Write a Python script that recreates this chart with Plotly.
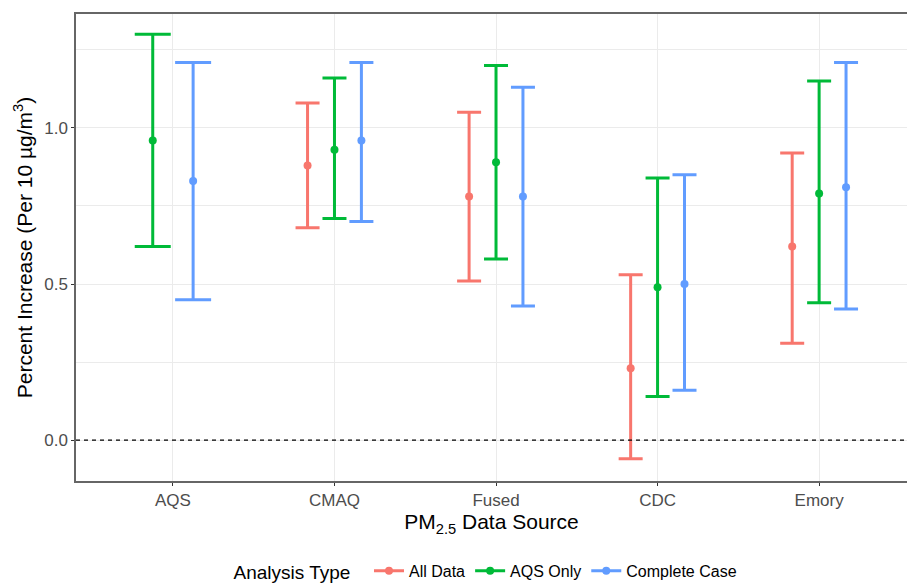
import plotly.graph_objects as go

# PM2.5 data sources on the x axis
sources = ["AQS", "CMAQ", "Fused", "CDC", "Emory"]
analysis_types = ["All Data", "AQS Only", "Complete Case"]
colors = ["#F8766D", "#00BA38", "#619CFF"]

# percent increase per 10 ug/m3 with 95% CI (None = not estimated)
all_data_est = [None, 0.88, 0.78, 0.23, 0.62]
all_data_low = [None, 0.68, 0.51, -0.06, 0.31]
all_data_high = [None, 1.08, 1.05, 0.53, 0.92]

aqs_only_est = [0.96, 0.93, 0.89, 0.49, 0.79]
aqs_only_low = [0.62, 0.71, 0.58, 0.14, 0.44]
aqs_only_high = [1.30, 1.16, 1.20, 0.84, 1.15]

complete_est = [0.83, 0.96, 0.78, 0.50, 0.81]
complete_low = [0.45, 0.70, 0.43, 0.16, 0.42]
complete_high = [1.21, 1.21, 1.13, 0.85, 1.21]

est = [all_data_est, aqs_only_est, complete_est]
low = [all_data_low, aqs_only_low, complete_low]
high = [all_data_high, aqs_only_high, complete_high]

DODGE = 0.5
FONT = "Arial, Liberation Sans, sans-serif"

fig = go.Figure()

# one trace per point so dodge offset and cap width follow ggplot's position_dodge
for i, src in enumerate(sources):
    present = [k for k in range(3) if est[k][i] is not None]
    n = len(present)
    for j, k in enumerate(present):
        xpos = i + DODGE * ((j + 0.5) / n - 0.5)
        fig.add_trace(go.Scatter(
            x=[xpos],
            y=[est[k][i]],
            mode="markers",
            marker=dict(color=colors[k], size=8),
            error_y=dict(
                type="data",
                symmetric=False,
                array=[high[k][i] - est[k][i]],
                arrayminus=[est[k][i] - low[k][i]],
                color=colors[k],
                thickness=3,
                width=36 / n,
            ),
            name=analysis_types[k],
            legendgroup=analysis_types[k],
            showlegend=False,
        ))

# legend keys
for k, name in enumerate(analysis_types):
    fig.add_trace(go.Scatter(
        x=[None], y=[None],
        mode="lines+markers",
        line=dict(color=colors[k], width=3),
        marker=dict(color=colors[k], size=8),
        name=name,
        legendgroup=name,
    ))

fig.add_hline(y=0, line=dict(color="black", width=1.2, dash="4px,4px"))

fig.update_layout(
    width=907,
    height=583,
    margin=dict(l=76, r=0, t=14, b=102, autoexpand=False),
    plot_bgcolor="white",
    paper_bgcolor="white",
    font=dict(family=FONT, color="black"),
    legend=dict(
        orientation="h",
        xref="container", x=0.537, xanchor="center",
        yref="container", y=0.02, yanchor="middle",
        title=dict(text="Analysis Type  ", font=dict(size=19)),
        font=dict(size=16),
        itemwidth=30,
    ),
)

fig.update_xaxes(
    range=[-0.6, 4.544],
    tickvals=list(range(len(sources))),
    ticktext=sources,
    tickfont=dict(size=17, color="#4D4D4D"),
    ticks="outside", ticklen=3, tickcolor="#333333",
    showgrid=True, gridcolor="#EBEBEB", gridwidth=1.1,
    showline=True, linecolor="#666666", linewidth=1.5, mirror=True,
    zeroline=False, automargin=False,
    title=dict(text="PM<sub>2.5</sub> Data Source", font=dict(size=21), standoff=2),
)

fig.update_yaxes(
    range=[-0.131, 1.365],
    tickvals=[0, 0.5, 1.0],
    tickformat=".1f",
    tickfont=dict(size=17, color="#4D4D4D"),
    ticks="outside", ticklen=3, tickcolor="#333333",
    showgrid=True, gridcolor="#EBEBEB", gridwidth=1.1,
    minor=dict(tickvals=[0.25, 0.75, 1.25], showgrid=True, gridcolor="#EBEBEB", gridwidth=0.6),
    showline=True, linecolor="#666666", linewidth=1.5,
    zeroline=False, automargin=False,
    title=dict(text="Percent Increase (Per 10 µg/m<sup>3</sup>)", font=dict(size=21), standoff=6),
)

# drop the browser's default body margin so the figure sits at the page corner
fig.write_html(
    "out.html",
    config={"displayModeBar": False},
    post_script="document.body.style.margin='0px';",
)
